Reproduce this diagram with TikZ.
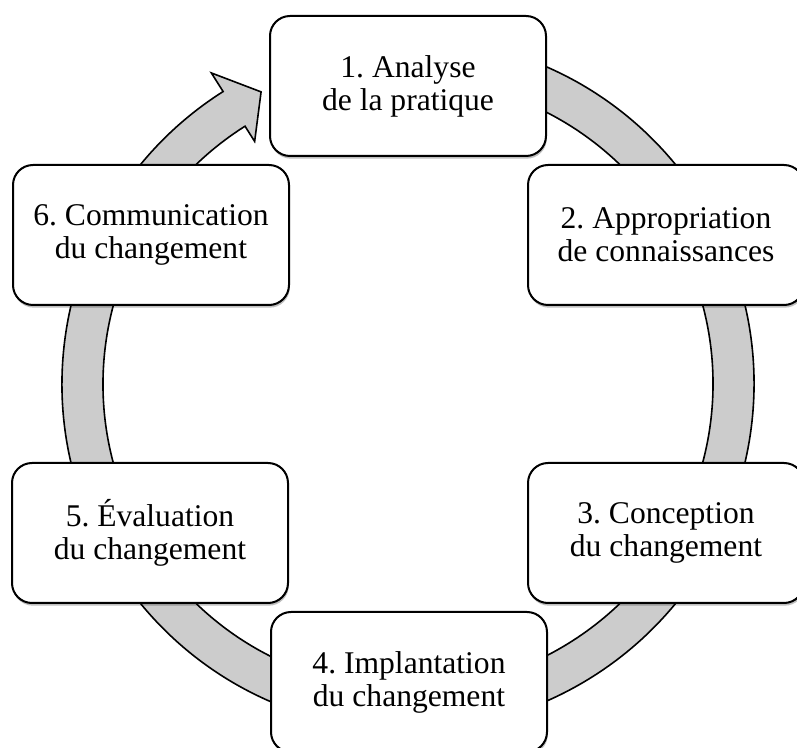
\documentclass[tikz,border=0pt]{standalone}
\usepackage{fontspec}
\setmainfont{Liberation Serif}
\usetikzlibrary{shadows}
\definecolor{bandgray}{RGB}{204,204,204}
\tikzset{
  stagebox/.style={draw=black, line width=1.5pt, fill=white, rectangle,
    rounded corners=15pt, minimum width=207pt, minimum height=105pt,
    inner sep=0pt, align=center,
    font=\fontsize{23.7pt}{24.7pt}\selectfont\frenchspacing,
    drop shadow={shadow xshift=0.6pt, shadow yshift=-2pt, opacity=0.25, fill=black}},
  band/.style={fill=bandgray, draw=black, line width=1.2pt, line join=miter}
}
\begin{document}
\begin{tikzpicture}[x=0.75pt,y=0.75pt]
\useasboundingbox (0,0) rectangle (797,747);
\clip (0,0) rectangle (797,747);
% circular arrow band
\begin{scope}[shift={(408,363)}]
  \coordinate (tip) at (-243.3:327);
  \filldraw[band] (80:346) arc[start angle=80, end angle=-237.7, radius=346]
    -- (-237.7:368) -- (tip) -- (-237.7:287) -- (-237.7:305)
    arc[start angle=-237.7, end angle=80, radius=305] -- cycle;
\end{scope}
% stages
\node[stagebox] (s1) at (408,661) {1. Analyse\\de la pratique};
\node[stagebox] (s2) at (666,512) {2. Appropriation\\de connaissances};
\node[stagebox] (s3) at (666,214) {3. Conception\\du changement};
\node[stagebox] (s4) at (409,65) {4. Implantation\\du changement};
\node[stagebox] (s5) at (150,214) {5. Évaluation\\du changement};
\node[stagebox] (s6) at (151,512) {6. Communication\\du changement};
\end{tikzpicture}
\end{document}
